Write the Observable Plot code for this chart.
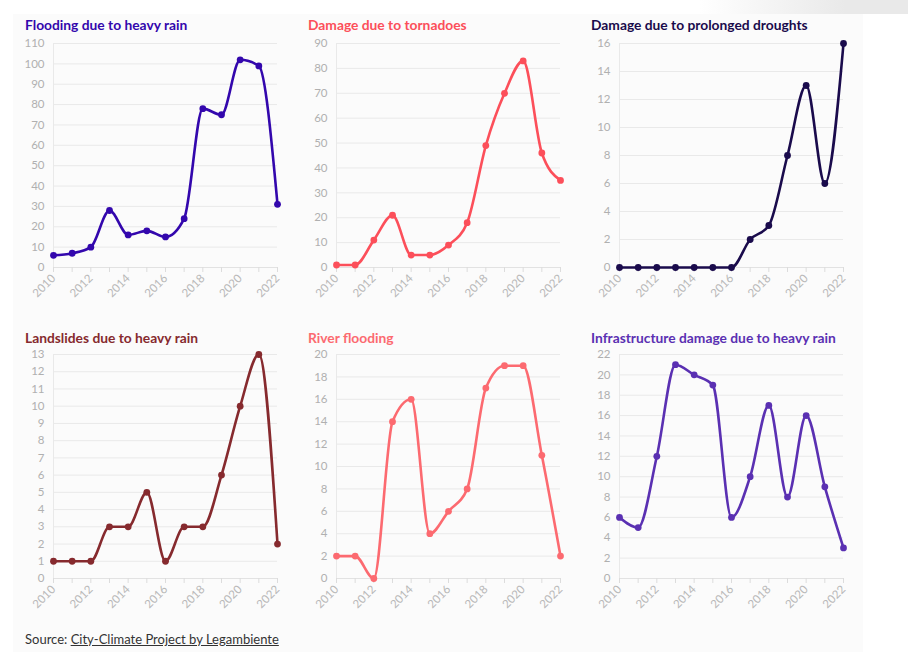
<!DOCTYPE html>
<html>
<head>
<meta charset="utf-8">
<script src="https://cdn.jsdelivr.net/npm/d3@7"></script>
<script src="https://cdn.jsdelivr.net/npm/@observablehq/plot@0.6"></script>
<style>
  html, body { margin: 0; padding: 0; background: #ffffff; }
  body { width: 908px; height: 652px; position: relative; overflow: hidden; font-family: Lato, "Noto Sans", sans-serif; }
  #topband { position: absolute; left: 700px; top: 0; width: 208px; height: 14px; background: linear-gradient(to right, rgba(236,236,236,0), #e9e9e9 70%); }
  #box { position: absolute; left: 13px; top: 14px; width: 850px; height: 638px; background: #fbfbfb; }
  .title { position: absolute; font-weight: 700; font-size: 13.8px; line-height: 16px; white-space: nowrap; }
  .panel { position: absolute; }
  #source { position: absolute; left: 25px; top: 631px; font-size: 13px; color: #333; }
  #source a { color: #333; text-decoration: underline; }
</style>
</head>
<body>
<div id="topband"></div>
<div id="box"></div>
<div id="source">Source: <a>City-Climate Project by Legambiente</a></div>
<script>
const years = [2010, 2011, 2012, 2013, 2014, 2015, 2016, 2017, 2018, 2019, 2020, 2021, 2022];
const floodingHeavyRain = [6, 7, 10, 28, 16, 18, 15, 24, 78, 75, 102, 99, 31];
const tornadoes = [1, 1, 11, 21, 5, 5, 9, 18, 49, 70, 83, 46, 35];
const droughts = [0, 0, 0, 0, 0, 0, 0, 2, 3, 8, 13, 6, 16];
const landslides = [1, 1, 1, 3, 3, 5, 1, 3, 3, 6, 10, 13, 2];
const riverFlooding = [2, 2, 0, 14, 16, 4, 6, 8, 17, 19, 19, 11, 2];
const infrastructure = [6, 5, 12, 21, 20, 19, 6, 10, 17, 8, 16, 9, 3];

const titles = [
  "Flooding due to heavy rain",
  "Damage due to tornadoes",
  "Damage due to prolonged droughts",
  "Landslides due to heavy rain",
  "River flooding",
  "Infrastructure damage due to heavy rain"
];
const colors = ["#3307ad", "#fc4f5a", "#1a0b4c", "#862a2e", "#fc6a70", "#5a30b2"];
const yMax = [110, 90, 16, 13, 20, 22];
const yStep = [10, 10, 2, 1, 2, 2];
const series = [floodingHeavyRain, tornadoes, droughts, landslides, riverFlooding, infrastructure];

const colLeft = [13, 296, 579];
const rowTop = [35, 346];
const titleTop = [17, 330];

series.forEach((vals, i) => {
  const col = i % 3, row = Math.floor(i / 3);
  const data = years.map((y, k) => ({year: y, value: vals[k]}));
  const yticks = d3.range(0, yMax[i] + 0.001, yStep[i]);

  const t = document.createElement("div");
  t.className = "title";
  t.textContent = titles[i];
  t.style.left = (colLeft[col] + 12) + "px";
  t.style.top = titleTop[row] + "px";
  t.style.color = colors[i];
  document.body.appendChild(t);

  const chart = Plot.plot({
    width: 283,
    height: 272,
    marginLeft: 40,
    marginRight: 19,
    marginTop: 8,
    marginBottom: 40,
    style: {background: "transparent", fontFamily: "Lato, 'Noto Sans', sans-serif", fontSize: "11.5px", color: "#b0b0b0", overflow: "visible"},
    x: {domain: [2010, 2022]},
    y: {domain: [0, yMax[i]]},
    marks: [
      Plot.gridY(yticks, {stroke: "#e9e9e9", strokeOpacity: 1}),
      Plot.ruleX([2010], {stroke: "#e9e9e9"}),
      Plot.ruleY([0], {stroke: "#e2e2e2"}),
      Plot.axisY(yticks, {tickSize: 0, tickPadding: 9, label: null, fill: "#b0b0b0"}),
      Plot.axisX(years, {tickSize: 5, stroke: "#dcdcdc", tickPadding: 4, tickRotate: -45, label: null, fill: "#b8b8b8",
        tickFormat: d => d % 2 === 0 ? String(d) : ""}),
      Plot.line(data, {x: "year", y: "value", stroke: colors[i], strokeWidth: 2.6, curve: "monotone-x"}),
      Plot.dot(data, {x: "year", y: "value", fill: colors[i], r: 3.4})
    ]
  });
  const wrap = document.createElement("div");
  wrap.className = "panel";
  wrap.style.left = colLeft[col] + "px";
  wrap.style.top = rowTop[row] + "px";
  wrap.appendChild(chart);
  document.body.appendChild(wrap);
});
</script>
</body>
</html>
